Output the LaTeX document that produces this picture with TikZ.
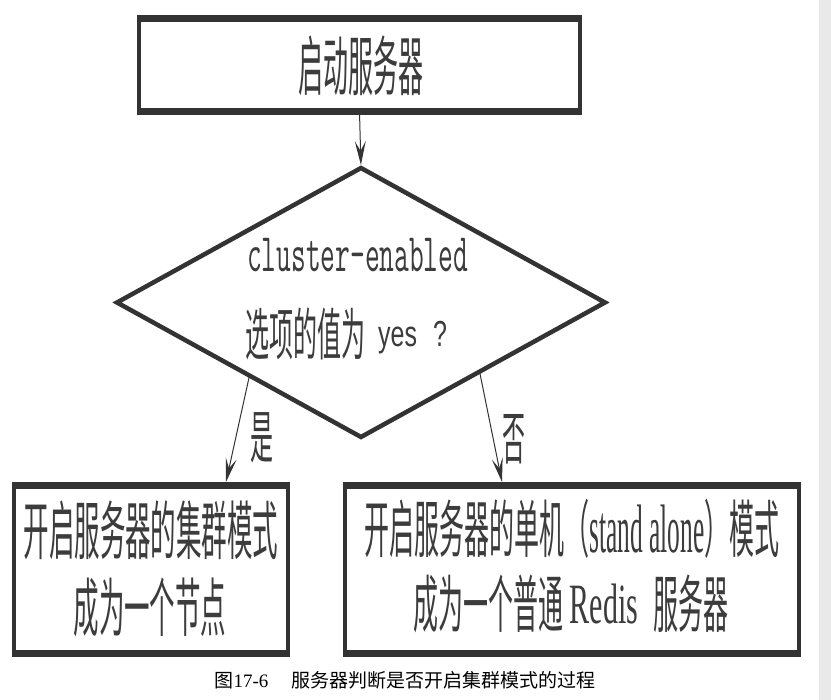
\documentclass[tikz,border=0pt]{standalone}
\usepackage{fontspec}
\setmainfont{Liberation Serif}
\newfontfamily\cjk{Noto Sans CJK SC}
\newfontfamily\sansf{Liberation Sans}
\usetikzlibrary{shapes.geometric,arrows.meta,calc}
\definecolor{dg}{HTML}{333333}
\definecolor{tg}{HTML}{3C3C3C}
\definecolor{stripc}{HTML}{E9E9E9}
\newcommand\ys[2]{\scalebox{1}[#1]{#2}}
\tikzset{
  box/.style={draw=dg, line width=4pt, rectangle, inner sep=0pt, outer sep=0pt},
  edge/.style={line width=7pt, draw=dg},
  txt/.style={inner sep=0pt, text=tg},
  conn/.style={draw=dg, line width=1pt, -{Stealth[length=24pt,width=11pt,inset=10pt]}},
}
\begin{document}
\begin{tikzpicture}[x=1pt,y=-1pt]
\useasboundingbox (0,0) rectangle (831,700);
\fill[white] (0,0) rectangle (831,700);
\fill[stripc] (819,0) rectangle (831,700);

% boxes
\node[box, minimum width=441pt, minimum height=93.5pt] (top) at (359.5,65.25) {};
\node[box, minimum width=274pt, minimum height=168pt] (lbox) at (151,569.5) {};
\node[box, minimum width=454pt, minimum height=168pt] (rbox) at (572,569.5) {};
\foreach \n in {top,lbox,rbox}{
  \draw[edge] ([xshift=-2pt]\n.north west) -- ([xshift=2pt]\n.north east);
  \draw[edge] ([xshift=-2pt]\n.south west) -- ([xshift=2pt]\n.south east);
}

% decision
\node[diamond, draw=dg, line width=4.5pt, inner sep=0pt, outer sep=0pt,
      minimum width=488pt, minimum height=269pt] (dia) at (361,302.5) {};

% texts
\node[txt] (ttop) at (361,66) {\fontsize{25}{30}\cjk\ys{2.6}{启动服务器}};
\node[txt, anchor=base west] (dq1) at (247,272) {\fontsize{28.6}{34}\ttfamily\ys{1.9}{cluster-enabled}};
\node[txt, anchor=base west] (dq2) at (245,356) {\fontsize{24}{30}\cjk\ys{2.35}{选项的值为}\hspace{13pt}\raisebox{9pt}{\fontsize{25}{30}\sansf\ys{1.45}{yes}}\hspace{16pt}\raisebox{9pt}{\fontsize{25}{30}\sansf\ys{1.45}{?}}};
\node[txt] (l1) at (151,530) {\fontsize{25.5}{30}\cjk\ys{2.5}{开启服务器的集群模式}};
\node[txt] (l2) at (150,607) {\fontsize{25.5}{30}\cjk\ys{2.5}{成为一个节点}};
\node[txt] (r1) at (572,529) {\fontsize{25}{30}\cjk\ys{2.5}{开启服务器的单机（}\ys{2.7}{\fontsize{25.4}{30}\rmfamily stand alone}\ys{2.5}{）模式}};
\node[txt] (r2) at (571,604) {\fontsize{25}{30}\cjk\ys{2.5}{成为一个普通}\hspace{6pt}\raisebox{4pt}{\fontsize{30}{36}\rmfamily\ys{1.9}{Redis}}\hspace{15pt}\ys{2.5}{服务器}};
\node[txt] (yes) at (262,438) {\fontsize{23}{28}\cjk\ys{2.5}{是}};
\node[txt] (no) at (514,439) {\fontsize{23}{28}\cjk\ys{2.5}{否}};
\node[inner sep=0pt, text=black] (cap) at (405,680) {\fontsize{19}{23}\cjk 图\rmfamily 17-6\hspace{23pt}\cjk 服务器判断是否开启集群模式的过程};

% connectors
\coordinate (ys) at ($(dia.west)!0.543!(dia.south)$);
\coordinate (ns) at ($(dia.east)!0.514!(dia.south)$);
\coordinate (ye) at (226,482);
\coordinate (ne) at (502,482);
\draw[conn, shorten >=3pt] (top.south) -- (dia.north);
\draw[conn] (ys) -- (ye);
\draw[conn] (ns) -- (ne);
\end{tikzpicture}
\end{document}
